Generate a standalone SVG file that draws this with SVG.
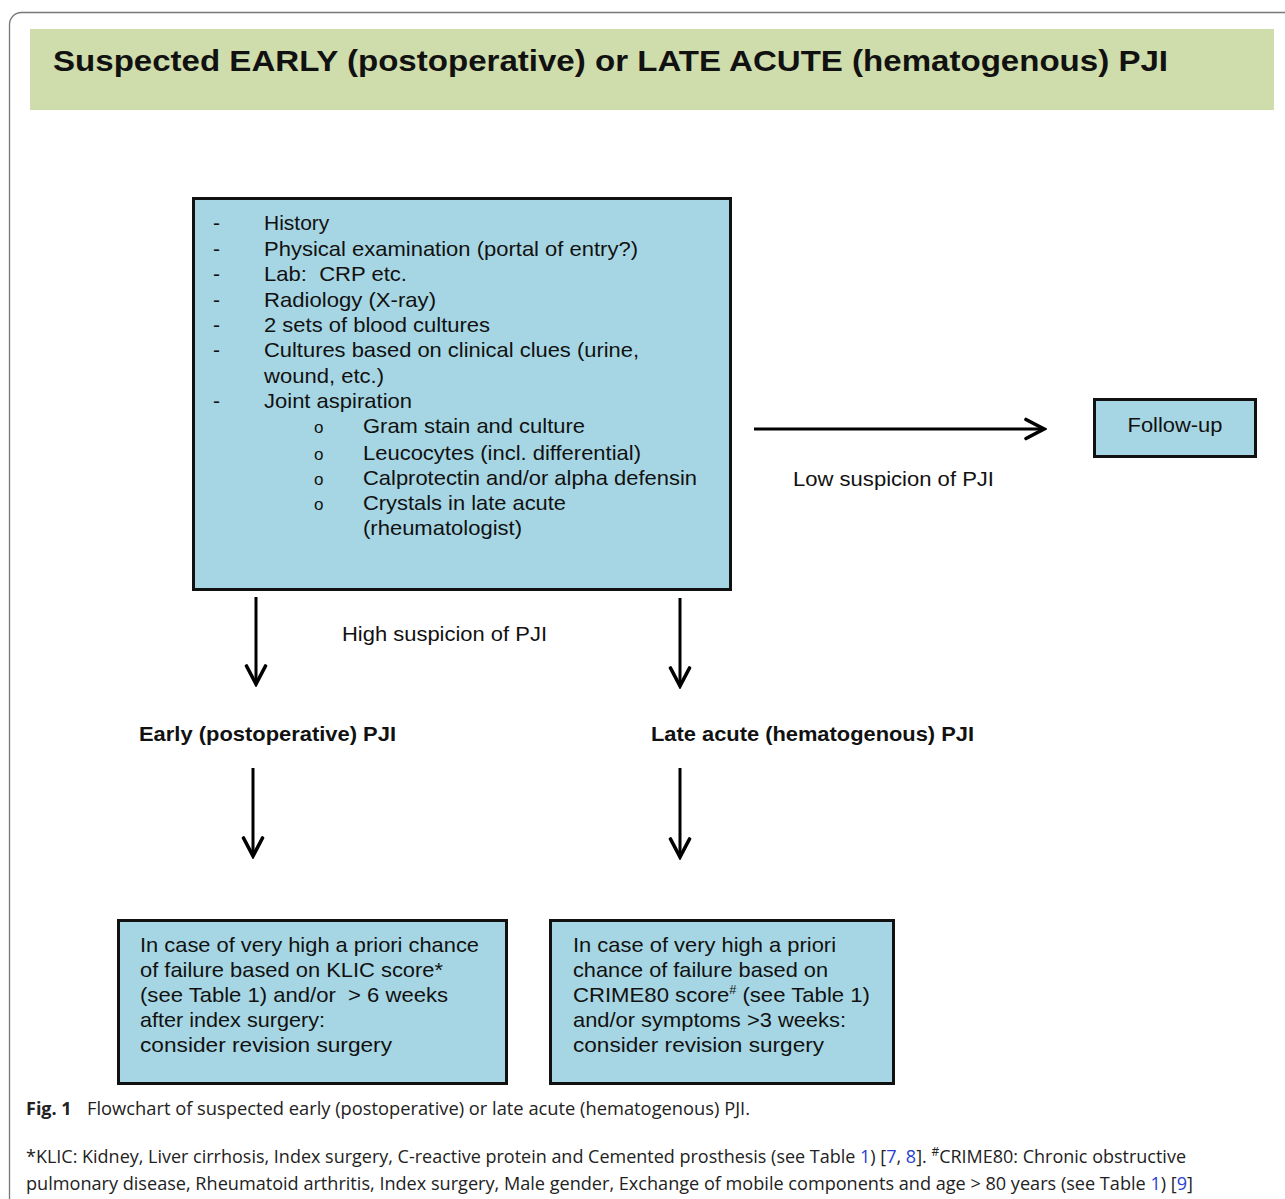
<svg xmlns="http://www.w3.org/2000/svg" width="1285" height="1199" viewBox="0 0 1285 1199">
<defs>
<style>
.t{font-family:"Liberation Sans",Arial,sans-serif;font-size:21px;fill:#111;}
.b{font-weight:bold;}
.box{fill:#a6d6e3;stroke:#111;stroke-width:3;}
.ln{stroke:#000;stroke-width:3;fill:none;}
.cap{font-family:"Open Sans","Noto Sans",sans-serif;font-size:18px;fill:#222;}
.lk{fill:#2a3fcf;}
</style>
<marker id="ah" viewBox="0 0 24 24" refX="21" refY="12" markerWidth="24" markerHeight="24" markerUnits="userSpaceOnUse" orient="auto">
<path d="M3,2.5 L21,12 L3,21.5" fill="none" stroke="#000" stroke-width="3.6" stroke-linecap="round" stroke-linejoin="miter"/>
</marker>
</defs>
<rect x="0" y="0" width="1285" height="1199" fill="#fff"/>
<rect x="9.5" y="12.5" width="1300" height="1220" rx="12" fill="none" stroke="#777" stroke-width="1.3"/>

<g id="title">
<rect x="30" y="29" width="1244" height="81" fill="#cfdcab"/>
<text class="t b" x="53" y="71" style="font-size:30px" textLength="1115" lengthAdjust="spacingAndGlyphs">Suspected EARLY (postoperative) or LATE ACUTE (hematogenous) PJI</text>
</g>

<g id="workup">
<rect class="box" x="193.5" y="198.5" width="537" height="391"/>
<g class="t">
<text x="213" y="230">-</text><text x="264" y="230">History</text>
<text x="213" y="256">-</text><text x="264" y="256" textLength="374" lengthAdjust="spacingAndGlyphs">Physical examination (portal of entry?)</text>
<text x="213" y="281">-</text><text x="264" y="281" textLength="143" lengthAdjust="spacingAndGlyphs" xml:space="preserve">Lab:  CRP etc.</text>
<text x="213" y="307">-</text><text x="264" y="307" textLength="172" lengthAdjust="spacingAndGlyphs">Radiology (X-ray)</text>
<text x="213" y="332">-</text><text x="264" y="332" textLength="226" lengthAdjust="spacingAndGlyphs">2 sets of blood cultures</text>
<text x="213" y="357">-</text><text x="264" y="357" textLength="375" lengthAdjust="spacingAndGlyphs">Cultures based on clinical clues (urine,</text>
<text x="264" y="383" textLength="120" lengthAdjust="spacingAndGlyphs">wound, etc.)</text>
<text x="213" y="408">-</text><text x="264" y="408" textLength="148" lengthAdjust="spacingAndGlyphs">Joint aspiration</text>
<text x="314" y="433" style="font-size:17px">o</text><text x="363" y="433" textLength="222" lengthAdjust="spacingAndGlyphs">Gram stain and culture</text>
<text x="314" y="460" style="font-size:17px">o</text><text x="363" y="460" textLength="278" lengthAdjust="spacingAndGlyphs">Leucocytes (incl. differential)</text>
<text x="314" y="485" style="font-size:17px">o</text><text x="363" y="485" textLength="334" lengthAdjust="spacingAndGlyphs">Calprotectin and/or alpha defensin</text>
<text x="314" y="510" style="font-size:17px">o</text><text x="363" y="510" textLength="203" lengthAdjust="spacingAndGlyphs">Crystals in late acute</text>
<text x="363" y="535" textLength="159" lengthAdjust="spacingAndGlyphs">(rheumatologist)</text>
</g>
</g>

<g id="followup">
<rect class="box" x="1094.5" y="399.5" width="161" height="57"/>
<text class="t" x="1175" y="432" text-anchor="middle" textLength="95" lengthAdjust="spacingAndGlyphs">Follow-up</text>
</g>

<g id="early">
<text class="t b" x="139" y="741" textLength="257" lengthAdjust="spacingAndGlyphs">Early (postoperative) PJI</text>
</g>
<g id="late">
<text class="t b" x="651" y="741" textLength="323" lengthAdjust="spacingAndGlyphs">Late acute (hematogenous) PJI</text>
</g>

<g id="early-revision">
<rect class="box" x="118.5" y="920.5" width="388" height="163"/>
<g class="t">
<text x="140" y="952" textLength="339" lengthAdjust="spacingAndGlyphs">In case of very high a priori chance</text>
<text x="140" y="977" textLength="303" lengthAdjust="spacingAndGlyphs">of failure based on KLIC score*</text>
<text x="140" y="1002" textLength="308" lengthAdjust="spacingAndGlyphs" xml:space="preserve">(see Table 1) and/or  &gt; 6 weeks</text>
<text x="140" y="1027" textLength="185" lengthAdjust="spacingAndGlyphs">after index surgery:</text>
<text x="140" y="1052" textLength="252" lengthAdjust="spacingAndGlyphs">consider revision surgery</text>
</g>
</g>

<g id="late-revision">
<rect class="box" x="550.5" y="920.5" width="343" height="163"/>
<g class="t">
<text x="573" y="952" textLength="263" lengthAdjust="spacingAndGlyphs">In case of very high a priori</text>
<text x="573" y="977" textLength="255" lengthAdjust="spacingAndGlyphs">chance of failure based on</text>
<text x="573" y="1002" textLength="297" lengthAdjust="spacingAndGlyphs">CRIME80 score<tspan dy="-8" style="font-size:12px">#</tspan><tspan dy="8"> (see Table 1)</tspan></text>
<text x="573" y="1027" textLength="273" lengthAdjust="spacingAndGlyphs">and/or symptoms &gt;3 weeks:</text>
<text x="573" y="1052" textLength="251" lengthAdjust="spacingAndGlyphs">consider revision surgery</text>
</g>
</g>

<g id="connectors">
<line class="ln" x1="754" y1="429" x2="1044" y2="429" marker-end="url(#ah)"/>
<text class="t" x="793" y="486" textLength="201" lengthAdjust="spacingAndGlyphs">Low suspicion of PJI</text>
<line class="ln" x1="256" y1="597" x2="256" y2="684" marker-end="url(#ah)"/>
<line class="ln" x1="680" y1="598" x2="680" y2="686" marker-end="url(#ah)"/>
<text class="t" x="342" y="641" textLength="205" lengthAdjust="spacingAndGlyphs">High suspicion of PJI</text>
<line class="ln" x1="253" y1="768" x2="253" y2="856" marker-end="url(#ah)"/>
<line class="ln" x1="680" y1="768" x2="680" y2="857" marker-end="url(#ah)"/>
</g>

<g id="caption">
<text class="cap" x="26" y="1115"><tspan style="font-weight:bold">Fig. 1</tspan></text>
<text class="cap" x="87" y="1115" textLength="663" lengthAdjust="spacingAndGlyphs">Flowchart of suspected early (postoperative) or late acute (hematogenous) PJI.</text>
<text class="cap" x="26" y="1163" textLength="1160" lengthAdjust="spacingAndGlyphs">*KLIC: Kidney, Liver cirrhosis, Index surgery, C-reactive protein and Cemented prosthesis (see Table <tspan class="lk">1</tspan>) [<tspan class="lk">7</tspan>, <tspan class="lk">8</tspan>]. <tspan dy="-7" style="font-size:12px">#</tspan><tspan dy="7">CRIME80: Chronic obstructive</tspan></text>
<text class="cap" x="26" y="1190" textLength="1167" lengthAdjust="spacingAndGlyphs">pulmonary disease, Rheumatoid arthritis, Index surgery, Male gender, Exchange of mobile components and age &gt; 80 years (see Table <tspan class="lk">1</tspan>) [<tspan class="lk">9</tspan>]</text>
</g>
</svg>
